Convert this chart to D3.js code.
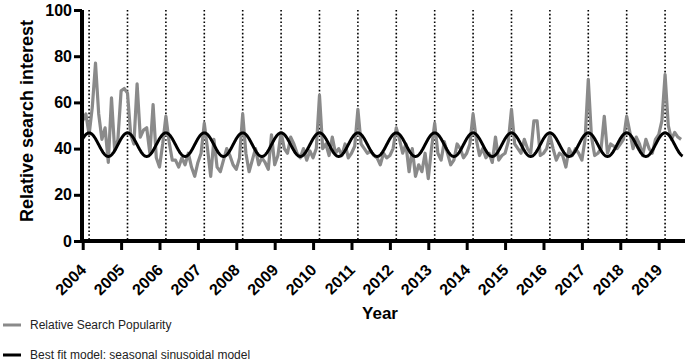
<!DOCTYPE html>
<html>
<head>
<meta charset="utf-8">
<script src="https://cdn.jsdelivr.net/npm/d3@7"></script>
<style>
  body { margin: 0; background: #fff; }
  text { font-family: "Liberation Sans", Arial, sans-serif; }
</style>
</head>
<body>
<svg width="685" height="363"></svg>
<script>
// Monthly relative search popularity, Jan 2004 .. Aug 2019
var startYear = 2004;
var popularity = [
    52, 55, 46, 58, 77, 55, 44, 49, 34, 62, 39, 44,   // 2004
    65, 66, 64, 46, 42, 68, 45, 48, 49, 38, 59, 36,   // 2005
    32, 42, 54, 43, 35, 35, 32, 36, 33, 38, 32, 28,   // 2006
    34, 38, 51, 40, 28, 44, 32, 30, 35, 40, 37, 33,   // 2007
    31, 36, 55, 38, 30, 35, 40, 33, 36, 34, 31, 46,   // 2008
    33, 37, 47, 40, 38, 45, 42, 38, 36, 40, 35, 39,   // 2009
    36, 40, 63, 40, 42, 37, 45, 38, 40, 37, 42, 36,   // 2010
    38, 41, 57, 42, 40, 38, 39, 37, 36, 33, 38, 36,   // 2011
    37, 40, 49, 44, 38, 42, 30, 40, 28, 33, 30, 38,   // 2012
    27, 40, 51, 38, 35, 43, 38, 33, 35, 42, 40, 36,   // 2013
    38, 42, 55, 44, 37, 40, 36, 38, 34, 45, 35, 37,   // 2014
    38, 43, 57, 42, 40, 38, 44, 40, 38, 52, 52, 37,   // 2015
    38, 40, 46, 40, 35, 38, 37, 32, 40, 37, 40, 38,   // 2016
    35, 44, 70, 45, 37, 38, 40, 54, 38, 42, 41, 40,   // 2017
    42, 44, 54, 47, 40, 45, 42, 37, 44, 40, 38, 44,   // 2018
    46, 52, 72, 50, 44, 47, 45, 44                    // 2019
];

// Seasonal sinusoidal model parameters
var modelMean = 41.7;
var modelAmplitude = 5.1;
var modelPeakMonth = 2;   // peaks each March

// Year tick labels
var years = d3.range(2004, 2020);
// Dotted lines mark the yearly peak (March)
var peakLines = years.map(function(y){ return y + 2 / 12; });

var yTicks = [0, 20, 40, 60, 80, 100];

var svg = d3.select('svg');

var x = d3.scaleLinear()
    .domain([startYear, startYear + (popularity.length - 0.4) / 12])
    .range([82.7, 683]);

var y = d3.scaleLinear()
    .domain([0, 100])
    .range([241, 10]);

// Dotted peak markers
svg.append('g')
    .selectAll('line')
    .data(peakLines)
    .enter().append('line')
    .attr('x1', function(d){ return x(d); })
    .attr('x2', function(d){ return x(d); })
    .attr('y1', y(100))
    .attr('y2', y(0))
    .attr('stroke', '#000')
    .attr('stroke-width', 1.6)
    .attr('stroke-dasharray', '1.6,2.2');

// Grey data line
var dataLine = d3.line()
    .x(function(d, i){ return x(startYear + i / 12); })
    .y(function(d){ return y(d); });

svg.append('path')
    .datum(popularity)
    .attr('d', dataLine)
    .attr('fill', 'none')
    .attr('stroke', '#8a8a8a')
    .attr('stroke-width', 3.2)
    .attr('stroke-linejoin', 'round');

// Black model curve
var modelPts = d3.range(0, popularity.length - 0.4, 0.1).map(function(m){
    return [startYear + m / 12,
        modelMean + modelAmplitude * Math.cos(2 * Math.PI * (m - modelPeakMonth) / 12)];
});

svg.append('path')
    .datum(modelPts)
    .attr('d', d3.line()
        .x(function(d){ return x(d[0]); })
        .y(function(d){ return y(d[1]); }))
    .attr('fill', 'none')
    .attr('stroke', '#000')
    .attr('stroke-width', 3);

// Y axis
var yAxisG = svg.append('g')
    .attr('transform', 'translate(82,0)')
    .call(d3.axisLeft(y).tickValues(yTicks).tickSize(8).tickSizeOuter(0).tickPadding(2));
yAxisG.select('.domain').attr('stroke-width', 4).attr('d', 'M0,' + y(100) + 'V' + (y(0) + 2));
yAxisG.selectAll('.tick line').attr('stroke-width', 3);
yAxisG.selectAll('.tick text')
    .style('font-size', '16px')
    .style('font-weight', 'bold')
    .attr('fill', '#000');

// X axis
var xAxisG = svg.append('g')
    .attr('transform', 'translate(0,241)')
    .call(d3.axisBottom(x).tickValues(years).tickFormat(d3.format('d')).tickSize(9).tickSizeOuter(0));
xAxisG.select('.domain').attr('stroke-width', 4).attr('d', 'M80,0H685');
xAxisG.selectAll('.tick line').attr('stroke-width', 3);
xAxisG.selectAll('.tick text')
    .attr('y', 0)
    .attr('dy', 0)
    .attr('text-anchor', 'end')
    .attr('transform', 'translate(4,30) rotate(-45)')
    .style('font-size', '16px')
    .style('font-weight', 'bold')
    .attr('fill', '#000');

// Axis titles
svg.append('text')
    .attr('transform', 'translate(33,121) rotate(-90)')
    .attr('text-anchor', 'middle')
    .style('font-size', '18px')
    .style('font-weight', 'bold')
    .text('Relative search interest');

svg.append('text')
    .attr('x', 380)
    .attr('y', 319)
    .attr('text-anchor', 'middle')
    .style('font-size', '17px')
    .style('font-weight', 'bold')
    .text('Year');

// Legend
var legendItems = [
    {label: 'Relative Search Popularity', color: '#8a8a8a', y: 325},
    {label: 'Best fit model: seasonal sinusoidal model', color: '#000', y: 355}
];
var legend = svg.append('g').selectAll('g')
    .data(legendItems)
    .enter().append('g')
    .attr('transform', function(d){ return 'translate(0,' + d.y + ')'; });
legend.append('line')
    .attr('x1', 3).attr('x2', 21)
    .attr('stroke', function(d){ return d.color; })
    .attr('stroke-width', 3);
legend.append('text')
    .attr('x', 30)
    .attr('dy', '0.35em')
    .style('font-size', '12px')
    .attr('fill', '#222')
    .text(function(d){ return d.label; });
</script>
</body>
</html>
